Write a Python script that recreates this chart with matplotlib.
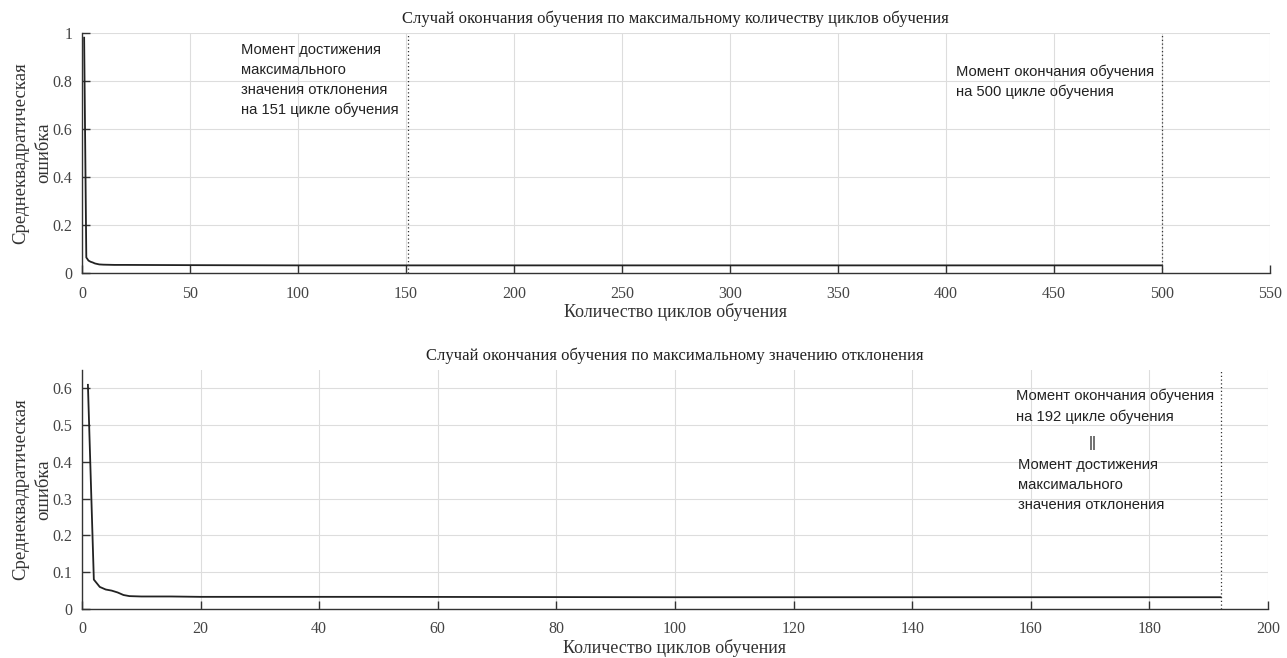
import matplotlib
matplotlib.use("Agg")
import matplotlib.pyplot as plt

# ---- data ----
top_epochs = [1, 2, 3, 4, 5, 6, 8, 10, 15, 20, 50, 100, 151, 200, 300, 400, 500]
top_rmse = [0.98, 0.065, 0.052, 0.047, 0.044, 0.040, 0.036, 0.035, 0.034, 0.034,
            0.033, 0.032, 0.032, 0.032, 0.032, 0.032, 0.032]
top_xticks = [0, 50, 100, 150, 200, 250, 300, 350, 400, 450, 500, 550]
top_yticks = [0, 0.2, 0.4, 0.6, 0.8, 1]
top_marks = [151, 500]

bot_epochs = [1, 2, 3, 4, 5, 6, 7, 8, 10, 15, 20, 50, 100, 150, 192]
bot_rmse = [0.61, 0.08, 0.060, 0.053, 0.050, 0.045, 0.038, 0.035, 0.034, 0.034,
            0.033, 0.033, 0.032, 0.032, 0.032]
bot_xticks = [0, 20, 40, 60, 80, 100, 120, 140, 160, 180, 200]
bot_yticks = [0, 0.1, 0.2, 0.3, 0.4, 0.5, 0.6]
bot_marks = [192]

title_top = "Случай окончания обучения по максимальному количеству циклов обучения"
title_bot = "Случай окончания обучения по максимальному значению отклонения"
xlabel = "Количество циклов обучения"
ylabel = "Среднеквадратическая\nошибка"

serif = "Liberation Serif"
sans = "Liberation Sans"

fig = plt.figure(figsize=(12.87, 6.58), dpi=100)
ax1 = fig.add_axes([0.0637, 0.585, 0.923, 0.365])
ax2 = fig.add_axes([0.0637, 0.0745, 0.9215, 0.363])


def style(ax, xt, yt, xlim, ylim):
    ax.set_xlim(*xlim)
    ax.set_ylim(*ylim)
    ax.set_xticks(xt)
    ax.set_yticks(yt)
    ax.set_xticklabels([f"{v:g}" for v in xt], family=serif, fontsize=11.5, color="#444444")
    ax.set_yticklabels([f"{v:g}" for v in yt], family=serif, fontsize=11.5, color="#444444")
    ax.grid(True, color="#dddddd", linewidth=0.8)
    ax.set_axisbelow(True)
    for s in ["top", "right"]:
        ax.spines[s].set_visible(False)
    for s in ["left", "bottom"]:
        ax.spines[s].set_color("#333333")
        ax.spines[s].set_linewidth(1.0)
    ax.tick_params(direction="in", length=6, width=1.0, color="#333333")
    ax.tick_params(axis="x", pad=9)
    ax.tick_params(axis="y", pad=7)
    ax.set_xlabel(xlabel, family=serif, fontsize=13, color="#333333", labelpad=1)
    ax.set_ylabel(ylabel, family=serif, fontsize=13.5, color="#333333", labelpad=0,
                  linespacing=1.45)


style(ax1, top_xticks, top_yticks, (0, 550), (0, 1))
style(ax2, bot_xticks, bot_yticks, (0, 200), (0, 0.65))

ax1.plot(top_epochs, top_rmse, color="#222222", linewidth=1.3)
ax2.plot(bot_epochs, bot_rmse, color="#222222", linewidth=1.3)

for m in top_marks:
    ax1.axvline(m, color="#333333", linestyle=(0, (1, 2)), linewidth=0.9)
for m in bot_marks:
    ax2.axvline(m, color="#333333", linestyle=(0, (1, 2)), linewidth=0.9)

ax1.set_title(title_top, family=serif, fontsize=12, color="#222222", pad=7)
ax2.set_title(title_bot, family=serif, fontsize=12, color="#222222", pad=7)

txt = dict(family=sans, fontsize=10.6, color="#222222", va="top", ha="left", linespacing=1.55)
ax1.text(73.6, 0.96, "Момент достижения\nмаксимального\nзначения отклонения\nна 151 цикле обучения", **txt)
ax1.text(404.5, 0.87, "Момент окончания обучения\nна 500 цикле обучения", **txt)
ax2.text(157.5, 0.60, "Момент окончания обучения\nна 192 цикле обучения", **txt)
ax2.text(170.5, 0.452, "||", family=sans, fontsize=10.6, color="#222222", ha="center", va="center")
ax2.text(157.8, 0.41, "Момент достижения\nмаксимального\nзначения отклонения", **txt)

fig.savefig("out.png", dpi=100, facecolor="white")
